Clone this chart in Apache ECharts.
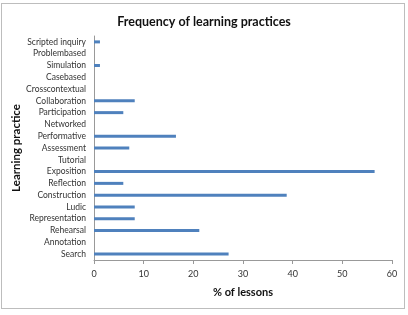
<!DOCTYPE html>
<html>
<head>
<meta charset="utf-8">
<script src="https://cdn.jsdelivr.net/npm/echarts@6/dist/echarts.min.js"></script>
<style>
  html, body { margin: 0; padding: 0; background: #fff; }
  #frame { position: absolute; left: 1px; top: 3px; width: 402px; height: 304px; border: 1px solid #bdbdbd; }
  #chart { position: absolute; left: 0; top: 0; width: 408px; height: 315px; }
</style>
</head>
<body>
<div id="frame"></div>
<div id="chart"></div>
<script>
// categories listed bottom -> top (as the value axis reads)
const practices = [
  'Search', 'Annotation', 'Rehearsal', 'Representation', 'Ludic', 'Construction',
  'Reflection', 'Exposition', 'Tutorial', 'Assessment', 'Performative', 'Networked',
  'Participation', 'Collaboration', 'Crosscontextual', 'Casebased', 'Simulation',
  'Problembased', 'Scripted inquiry'
];
const lessonsPct = [
  27.1, 0, 21.2, 8.2, 8.2, 38.8,
  5.9, 56.5, 0, 7.1, 16.5, 0,
  5.9, 8.2, 0, 0, 1.2,
  0, 1.2
];
const pctTicks = [0, 10, 20, 30, 40, 50, 60];

const chart = echarts.init(document.getElementById('chart'));
const font = 'Lato, "Open Sans", sans-serif';

chart.setOption({
  animation: false,
  title: {
    text: 'Frequency of learning practices',
    left: 'center',
    top: 10,
    textStyle: { fontFamily: font, fontSize: 12.5, fontWeight: 'bold', color: '#111' }
  },
  grid: { left: 94, right: 16, top: 36, bottom: 55, outerBoundsMode: 'none', containLabel: false },
  xAxis: {
    type: 'value',
    min: pctTicks[0],
    max: pctTicks[pctTicks.length - 1],
    interval: 10,
    name: '% of lessons',
    nameLocation: 'middle',
    nameGap: 27,
    nameTextStyle: { fontFamily: font, fontSize: 11, fontWeight: 'bold', color: '#111' },
    axisLine: { show: true, lineStyle: { color: '#999' } },
    axisTick: { show: true, length: 4, lineStyle: { color: '#999' } },
    axisLabel: { fontFamily: font, fontSize: 9, color: '#333', margin: 10 },
    splitLine: { show: false }
  },
  yAxis: {
    type: 'category',
    data: practices,
    name: 'Learning practice',
    nameLocation: 'middle',
    nameGap: 72,
    nameMoveOverlap: false,
    nameRotate: 90,
    nameTextStyle: { fontFamily: font, fontSize: 11.5, fontWeight: 'bold', color: '#111' },
    axisLine: { show: true, lineStyle: { color: '#999' } },
    axisTick: { show: false },
    axisLabel: { fontFamily: font, fontSize: 8.5, color: '#333', margin: 8, interval: 0 }
  },
  series: [{
    type: 'bar',
    data: lessonsPct,
    barWidth: 3,
    itemStyle: { color: '#4f81bd' }
  }]
});
</script>
</body>
</html>
